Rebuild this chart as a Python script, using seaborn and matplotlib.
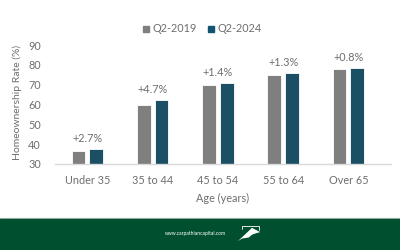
import numpy as np
import pandas as pd
import matplotlib
matplotlib.use("Agg")
import matplotlib.pyplot as plt
import seaborn as sns
from matplotlib.patches import Rectangle, Polygon
from matplotlib.lines import Line2D

# ── Data ──────────────────────────────────────────────────────────────────────
AGE_GROUPS = ["Under 35", "35 to 44", "45 to 54", "55 to 64", "Over 65"]
Q2_2019    = [36.4, 59.6, 69.9, 75.0, 77.9]
Q2_2024    = [37.4, 62.4, 70.9, 76.0, 78.5]
CHANGES    = ["+2.7%", "+4.7%", "+1.4%", "+1.3%", "+0.8%"]
SERIES     = ["Q2-2019", "Q2-2024"]

GRAY  = "#7F7F7F"
TEAL  = "#0F5570"
TEXT  = "#6E6E6E"
GREEN = "#00502F"

df = pd.DataFrame({
    "age":  AGE_GROUPS * 2,
    "rate": Q2_2019 + Q2_2024,
    "period": [SERIES[0]] * len(AGE_GROUPS) + [SERIES[1]] * len(AGE_GROUPS),
})

sns.set_theme(style="white")
plt.rcParams["font.family"] = ["Lato", "DejaVu Sans"]

fig = plt.figure(figsize=(4, 2.5), dpi=100)
ax = fig.add_axes([0.137, 0.344, 0.84, 0.476])

sns.barplot(data=df, x="age", y="rate", hue="period", order=AGE_GROUPS,
            hue_order=SERIES, palette=[GRAY, TEAL], width=0.545, gap=0.22,
            edgecolor="white", linewidth=0.6, legend=False, ax=ax)

ax.set_ylim(30, 90)
ax.set_xlim(-0.5, 4.65)
ax.set_yticks(range(30, 91, 10))
for s in ["top", "right", "left"]:
    ax.spines[s].set_visible(False)
ax.spines["bottom"].set_color("#D9D9D9")
ax.spines["bottom"].set_linewidth(1.0)
ax.tick_params(axis="both", length=0, labelsize=7.8, labelcolor=TEXT)
ax.tick_params(axis="x", pad=8)
ax.tick_params(axis="y", pad=10)
ax.set_xlabel("Age (years)", fontsize=7.8, color=TEXT, labelpad=5)
ax.set_ylabel("Homeownership Rate (%)", fontsize=7.5, color=TEXT, va="center")
ax.yaxis.set_label_coords(-0.112, 0.52)

for i, (lab, a, b) in enumerate(zip(CHANGES, Q2_2019, Q2_2024)):
    ax.annotate(lab, (i, max(a, b)), xytext=(0, 3.5), textcoords="offset points",
                ha="center", va="bottom", fontsize=7.8, color=TEXT)

handles = [Line2D([], [], marker="s", linestyle="", markersize=4.5,
                  markerfacecolor=c, markeredgecolor=c) for c in (GRAY, TEAL)]
fig.legend(handles, SERIES, loc="center", bbox_to_anchor=(0.505, 0.884), ncol=2,
           frameon=False, fontsize=7.8, labelcolor=TEXT, handlelength=0.6,
           handletextpad=0.3, columnspacing=1.0, borderaxespad=0)

# footer band
fig.add_artist(Rectangle((0, 0), 1, 0.128, transform=fig.transFigure,
                         facecolor=GREEN, edgecolor="none"))
fig.add_artist(Line2D([0, 1], [0.128, 0.128], transform=fig.transFigure,
                      color="#8FA89A", linewidth=0.8))
fig.text(0.4875, 0.064, "www.carpathiancapital.com", ha="center", va="center",
         fontsize=3.6, color="white")
# logo mark
fig.add_artist(Polygon([[0.595, 0.036], [0.63, 0.088], [0.65, 0.072],
                        [0.612, 0.052]], closed=True, transform=fig.transFigure,
                       facecolor="white", edgecolor="none"))
fig.add_artist(Polygon([[0.606, 0.046], [0.63, 0.088], [0.652, 0.066],
                        [0.64, 0.076], [0.622, 0.05]], closed=True,
                       transform=fig.transFigure, facecolor="white", edgecolor="none"))
fig.add_artist(Line2D([0.605, 0.605, 0.648, 0.648], [0.085, 0.096, 0.096, 0.08],
                      transform=fig.transFigure, color="white", linewidth=0.6))

fig.savefig("out.png", dpi=100)
